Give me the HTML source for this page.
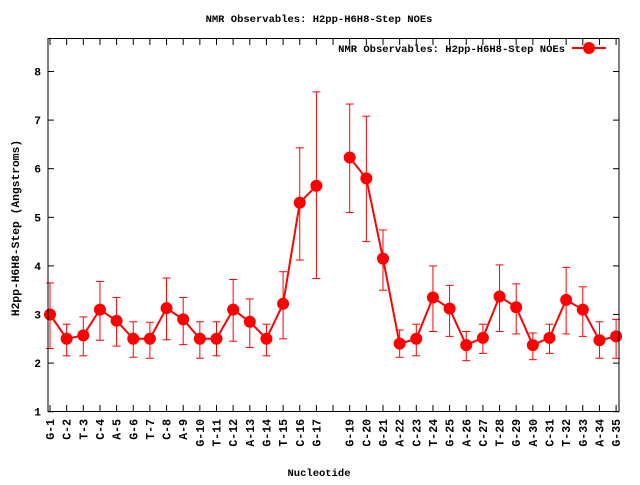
<!DOCTYPE html>
<html><head><meta charset="utf-8"><style>
body{margin:0;background:#fff}
svg text{font-family:"Liberation Mono",monospace;font-weight:bold;font-size:10.5px;fill:#000}
</style></head><body>
<svg id="s" width="640" height="480" xmlns="http://www.w3.org/2000/svg">
<rect width="640" height="480" fill="#fff"/>
<text x="319" y="22" text-anchor="middle">NMR Observables: H2pp-H6H8-Step NOEs</text>
<text x="319" y="476" text-anchor="middle">Nucleotide</text>
<text transform="translate(19,228) rotate(-90)" text-anchor="middle" style="font-size:11.3px">H2pp-H6H8-Step (Angstroms)</text>
<g id="g"></g>
<rect x="48" y="38.5" width="571" height="373" fill="none" stroke="#000" stroke-width="1"/>
<text x="565" y="52" text-anchor="end">NMR Observables: H2pp-H6H8-Step NOEs</text>
<line x1="572" y1="48" x2="606" y2="48" stroke="#f00" stroke-width="2"/>
<circle cx="589" cy="48" r="6" fill="#f00"/>
</svg>
<script>
var g=document.getElementById('g'),NS='http://www.w3.org/2000/svg';
function el(t,a,txt){var e=document.createElementNS(NS,t);for(var k in a)e.setAttribute(k,a[k]);if(txt)e.textContent=txt;g.appendChild(e);return e;}
function Y(v){return 314.5-(v-3)*48.6;}
function X(i){return 50+(i-1)*16.65;}
for(var v=1;v<=8;v++){var y=Y(v);el('line',{x1:48,y1:y,x2:54,y2:y,stroke:'#000'});el('line',{x1:613,y1:y,x2:619,y2:y,stroke:'#000'});el('text',{x:41,y:y+4,'text-anchor':'end',style:'font-size:11.3px'},''+v);}
var names=['G','C','T','C','A','G','T','C','A','G','T','C','A','G','T','C','G','','G','C','G','A','C','T','G','A','C','T','G','A','C','T','G','A','G'];
for(var i=1;i<=35;i++){var x=X(i);el('line',{x1:x,y1:411,x2:x,y2:405,stroke:'#000'});el('line',{x1:x,y1:39,x2:x,y2:45,stroke:'#000'});
 if(names[i-1])el('text',{transform:'translate('+(x+4)+',419) rotate(-90)','text-anchor':'end',style:'font-size:11.5px'},names[i-1]+'-'+i);}
var d=[[1,3.0,2.3,3.65],[2,2.5,2.15,2.8],[3,2.57,2.15,2.95],[4,3.1,2.47,3.68],[5,2.87,2.35,3.35],[6,2.5,2.12,2.85],[7,2.5,2.1,2.84],[8,3.13,2.48,3.75],[9,2.9,2.38,3.35],[10,2.5,2.1,2.85],[11,2.5,2.15,2.85],[12,3.1,2.45,3.72],[13,2.85,2.32,3.32],[14,2.5,2.15,2.8],[15,3.22,2.5,3.88],[16,5.3,4.12,6.43],[17,5.65,3.74,7.58],[19,6.23,5.1,7.33],[20,5.8,4.5,7.08],[21,4.15,3.5,4.74],[22,2.4,2.12,2.68],[23,2.5,2.15,2.8],[24,3.35,2.65,4.0],[25,3.12,2.55,3.6],[26,2.37,2.05,2.65],[27,2.52,2.2,2.8],[28,3.37,2.65,4.02],[29,3.15,2.6,3.63],[30,2.37,2.07,2.62],[31,2.52,2.2,2.8],[32,3.3,2.6,3.97],[33,3.1,2.55,3.57],[34,2.47,2.1,2.85],[35,2.55,2.1,2.9]];
var p1='',p2='';d.forEach(function(r){var s=X(r[0]).toFixed(1)+','+Y(r[1]).toFixed(1)+' ';if(r[0]<=17)p1+=s;else p2+=s;});
el('polyline',{points:p1,fill:'none',stroke:'#f00','stroke-width':2});
el('polyline',{points:p2,fill:'none',stroke:'#f00','stroke-width':2});
d.forEach(function(r){var x=X(r[0]),lo=Y(r[2]),hi=Y(r[3]);
 el('line',{x1:x,y1:lo,x2:x,y2:hi,stroke:'#f00'});
 el('line',{x1:x-4,y1:lo,x2:x+4,y2:lo,stroke:'#f00'});
 el('line',{x1:x-4,y1:hi,x2:x+4,y2:hi,stroke:'#f00'});
 el('circle',{cx:x,cy:Y(r[1]),r:6,fill:'#f00'});});
</script>
</body></html>
